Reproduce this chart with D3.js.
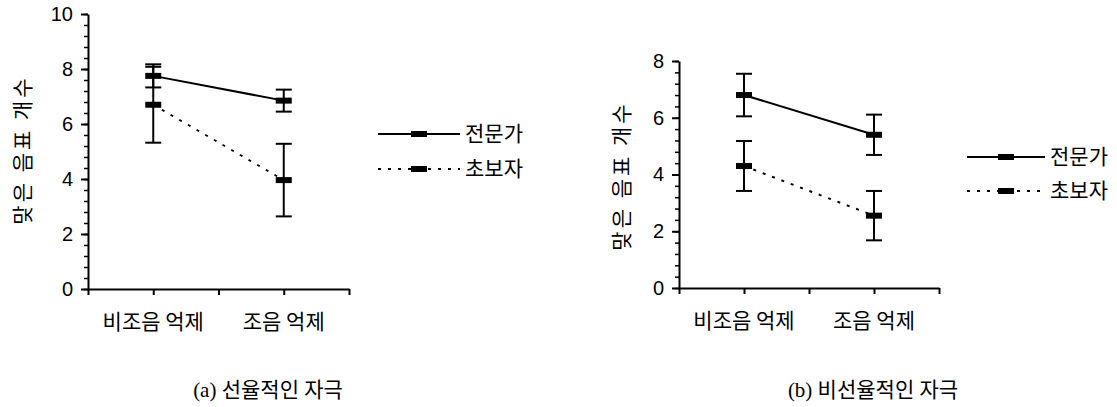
<!DOCTYPE html>
<html>
<head>
<meta charset="utf-8">
<script src="https://cdn.jsdelivr.net/npm/d3@7"></script>
<style>
  body { margin: 0; background: #fff; }
  svg { display: block; }
  .tick text { font-family: "Liberation Sans", Arial, sans-serif; font-size: 20px; fill: #000; }
  .kor { font-family: "Noto Sans CJK KR", sans-serif; font-size: 21px; fill: #000; }
  .ytitle { letter-spacing: 3px; }
  .cap { font-family: "Liberation Serif", "Noto Sans CJK KR", serif; font-size: 21px; fill: #000; }
</style>
</head>
<body>
<svg width="1117" height="407"></svg>
<script>
// values
const categories = ['비조음 억제', '조음 억제'];
const seriesNames = ['전문가', '초보자'];

const expertA = [7.75, 6.85];
const expertErrA = [0.42, 0.4];
const noviceA = [6.7, 3.96];
const noviceErrA = [1.38, 1.32];

const expertB = [6.8, 5.4];
const expertErrB = [0.75, 0.71];
const noviceB = [4.3, 2.55];
const noviceErrB = [0.88, 0.87];

const yTicksA = [0, 2, 4, 6, 8, 10];
const yTicksB = [0, 2, 4, 6, 8];
const yTitle = '맞은 음표 개수';
const captions = ['(a) 선율적인 자극', '(b) 비선율적인 자극'];

const svg = d3.select('svg');

const drawPanel = p => {
    const x = d3.scaleBand().domain(categories).range([p.left, p.right]).padding(0);
    const xq = d3.scaleLinear().domain([0, 4]).range([p.left, p.right]);
    const y = d3.scaleLinear().domain([0, p.ticks[p.ticks.length - 1]]).range([p.bottom, p.top]);
    const cx = c => x(c) + x.bandwidth() / 2;

    // minor ticks
    svg.append('g')
        .attr('transform', `translate(${p.left},0)`)
        .call(d3.axisLeft(y).tickValues(d3.range(0, y.domain()[1] + 0.01, 0.4)).tickSize(4).tickFormat('').tickSizeOuter(0))
        .call(g => g.select('.domain').remove())
        .selectAll('line').attr('stroke-width', 1.5);

    const ya = svg.append('g')
        .attr('transform', `translate(${p.left},0)`)
        .call(d3.axisLeft(y).tickValues(p.ticks).tickSize(7).tickPadding(8).tickSizeOuter(0));
    ya.selectAll('path,line').attr('stroke-width', 2);

    const xa = svg.append('g')
        .attr('transform', `translate(0,${p.bottom})`)
        .call(d3.axisBottom(xq).tickValues([0, 1, 2, 3, 4]).tickSize(6).tickFormat('').tickSizeOuter(0));
    xa.selectAll('path,line').attr('stroke-width', 2);

    svg.append('g').selectAll('text').data(categories).enter().append('text')
        .attr('class', 'kor')
        .attr('x', cx)
        .attr('y', p.bottom + 40)
        .attr('text-anchor', 'middle')
        .text(d => d);

    svg.append('text')
        .attr('class', 'kor ytitle')
        .attr('transform', `translate(${p.titleX},${p.titleY}) rotate(-90)`)
        .attr('text-anchor', 'middle')
        .attr('dy', '0.35em')
        .text(yTitle);

    const series = [
        { vals: p.expert, errs: p.expertErr, dash: null },
        { vals: p.novice, errs: p.noviceErr, dash: '3,7' }
    ];

    series.forEach(s => {
        const pts = categories.map((c, i) => ({ c, v: s.vals[i], e: s.errs[i] }));
        svg.append('path')
            .datum(pts)
            .attr('fill', 'none')
            .attr('stroke', '#000')
            .attr('stroke-width', 2)
            .attr('stroke-dasharray', s.dash)
            .attr('d', d3.line().x(d => cx(d.c)).y(d => y(d.v)));

        const eb = svg.append('g').selectAll('g').data(pts).enter().append('g');
        eb.append('line')
            .attr('x1', d => cx(d.c)).attr('x2', d => cx(d.c))
            .attr('y1', d => y(d.v - d.e)).attr('y2', d => y(d.v + d.e))
            .attr('stroke', '#000').attr('stroke-width', 2);
        [-1, 1].forEach(k => {
            eb.append('line')
                .attr('x1', d => cx(d.c) - 8).attr('x2', d => cx(d.c) + 8)
                .attr('y1', d => y(d.v + k * d.e)).attr('y2', d => y(d.v + k * d.e))
                .attr('stroke', '#000').attr('stroke-width', 2);
        });
        eb.append('rect')
            .attr('x', d => cx(d.c) - 8).attr('y', d => y(d.v) - 3)
            .attr('width', 16).attr('height', 6)
            .attr('fill', '#000');
    });

    // legend
    seriesNames.forEach((name, i) => {
        const ly = p.legY + i * p.legGap;
        svg.append('line')
            .attr('x1', p.legX).attr('x2', p.legX + p.legW)
            .attr('y1', ly).attr('y2', ly)
            .attr('stroke', '#000').attr('stroke-width', 2)
            .attr('stroke-dasharray', i === 0 ? null : '3,7');
        svg.append('rect')
            .attr('x', p.legX + p.legW / 2 - 8).attr('y', ly - 3)
            .attr('width', 16).attr('height', 6).attr('fill', '#000');
        svg.append('text')
            .attr('class', 'kor')
            .attr('x', p.legX + p.legW + 5).attr('y', ly)
            .attr('dy', '0.35em')
            .text(name);
    });

    svg.append('text')
        .attr('class', 'cap')
        .attr('x', p.capX).attr('y', 397)
        .attr('text-anchor', 'middle')
        .text(p.caption);
};

drawPanel({
    left: 88, right: 349, top: 14, bottom: 289, ticks: yTicksA,
    expert: expertA, expertErr: expertErrA, novice: noviceA, noviceErr: noviceErrA,
    titleX: 23, titleY: 150,
    legX: 378, legW: 82, legY: 134, legGap: 35,
    capX: 268, caption: captions[0]
});

drawPanel({
    left: 679, right: 939, top: 61, bottom: 288, ticks: yTicksB,
    expert: expertB, expertErr: expertErrB, novice: noviceB, noviceErr: noviceErrB,
    titleX: 622, titleY: 176,
    legX: 967, legW: 78, legY: 157, legGap: 34,
    capX: 873, caption: captions[1]
});
</script>
</body>
</html>
